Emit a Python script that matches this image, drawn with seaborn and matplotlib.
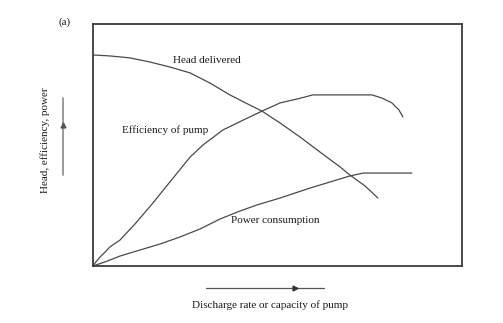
import matplotlib
matplotlib.use("Agg")
import matplotlib.pyplot as plt
import seaborn as sns
import pandas as pd

# Pump characteristic curves (relative units: discharge 0-100, response 0-100)
head_q = [0, 4.6, 10.0, 15.4, 20.9, 26.3, 31.7, 37.1, 42.5, 45.8, 50.7, 56.1,
          61.5, 67.0, 69.6, 73.7, 77.2]
head_v = [87.2, 86.8, 86.0, 84.3, 82.2, 79.8, 75.6, 70.7, 66.5, 64.0, 59.1,
          53.3, 47.1, 40.9, 37.6, 33.1, 28.1]

eff_q = [0, 0.8, 1.9, 3.3, 4.6, 7.3, 11.4, 16.0, 19.5, 22.8, 26.3, 29.8, 35.2,
         40.7, 45.8, 50.7, 55.3, 59.6, 75.6, 78.3, 81.0, 82.9, 84.0]
eff_v = [0, 1.7, 3.7, 5.8, 7.9, 10.7, 17.4, 25.6, 32.2, 38.4, 45.0, 50.0, 56.2,
         60.3, 64.0, 67.4, 69.0, 70.7, 70.7, 69.4, 67.4, 64.5, 61.6]

pow_q = [0, 3.3, 7.3, 12.7, 18.2, 23.6, 29.0, 34.4, 39.8, 44.4, 50.7, 58.8,
         64.2, 69.6, 73.2, 86.4]
pow_v = [0, 1.7, 4.1, 6.6, 9.1, 12.0, 15.3, 19.4, 22.7, 25.2, 28.1, 32.2,
         34.7, 37.2, 38.4, 38.4]

labels = {
    "head": "Head delivered",
    "eff": "Efficiency of pump",
    "pow": "Power consumption",
}
xlabel = "Discharge rate or capacity of pump"
ylabel = "Head, efficiency, power"
panel = "(a)"

sns.set_theme(style="white")
plt.rcParams["font.family"] = ["Liberation Serif", "DejaVu Serif"]

W, H = 503, 323
fig = plt.figure(figsize=(W / 100, H / 100), dpi=100)
ax = fig.add_axes([93 / W, 1 - 266 / H, (462 - 93) / W, (266 - 24) / H])

curve_color = "#4a4a4a"
for q, v in [(head_q, head_v), (eff_q, eff_v), (pow_q, pow_v)]:
    df = pd.DataFrame({"q": q, "v": v})
    sns.lineplot(data=df, x="q", y="v", sort=False, color=curve_color,
                 linewidth=0.9, ax=ax)

ax.set_xlim(0, 100)
ax.set_ylim(0, 100)
ax.set_xticks([])
ax.set_yticks([])
ax.set_xlabel("")
ax.set_ylabel("")
for s in ax.spines.values():
    s.set_color("#3c3c3c")
    s.set_linewidth(1.3)

txt = dict(fontsize=8, color="#1a1a1a")
ax.text(21.7, 85, labels["head"], va="center", ha="left", **txt)
ax.text(7.9, 56, labels["eff"], va="center", ha="left", **txt)
ax.text(37.4, 19, labels["pow"], va="center", ha="left", **txt)


def fx(px):
    return px / W


def fy(py):
    return 1 - py / H


fig.text(fx(65), fy(22), panel, ha="center", va="center", **txt)
fig.text(fx(45), fy(140), ylabel, rotation=90, ha="center", va="center", **txt)
fig.text(fx(270), fy(305), xlabel, ha="center", va="center", **txt)

arrow_color = "#555555"
# vertical arrow beside the y label
fig.add_artist(plt.Line2D([fx(63), fx(63)], [fy(175), fy(98)],
                          color="#8a8a8a", linewidth=1.2))
fig.add_artist(plt.Line2D([fx(63)], [fy(125)], marker="^", markersize=3.5,
                          color=arrow_color, linestyle="none"))
# horizontal arrow above the x label
fig.add_artist(plt.Line2D([fx(206), fx(324)], [fy(288), fy(288)],
                          color="#555555", linewidth=0.9))
fig.add_artist(plt.Line2D([fx(295)], [fy(288)], marker=">", markersize=3.5,
                          color="#333333", linestyle="none"))

fig.savefig("out.png", dpi=100, facecolor="white")
